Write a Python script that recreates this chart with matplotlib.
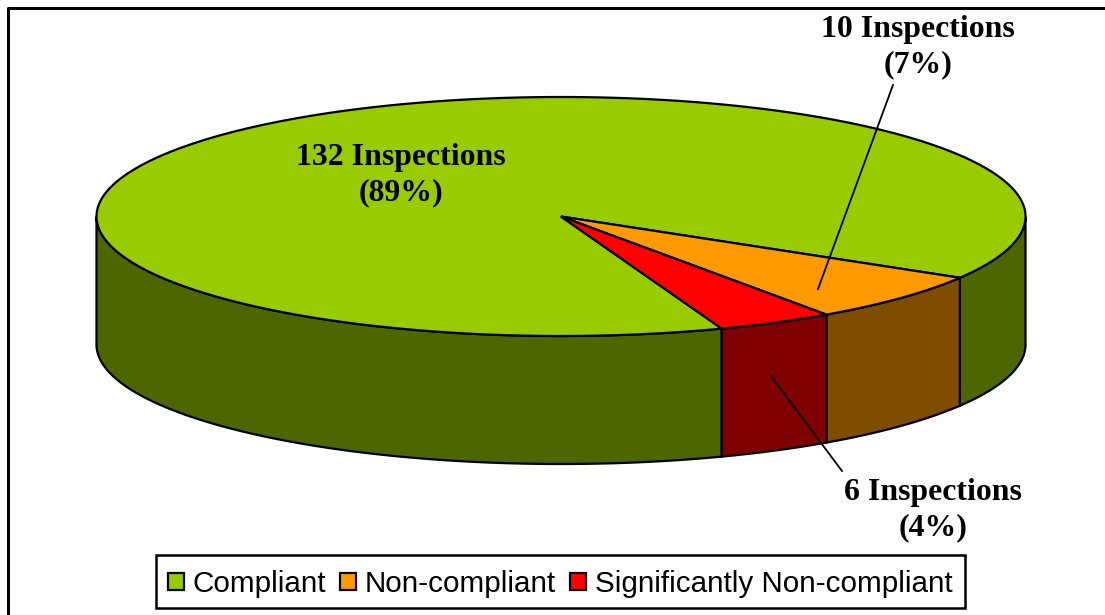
"""3D-look pie of inspection outcomes, drawn as projected ellipse wedges."""
import matplotlib

matplotlib.use("Agg")
import matplotlib.pyplot as plt
from matplotlib.patches import Patch, Polygon, Rectangle
import numpy as np

categories = ["Compliant", "Non-compliant", "Significantly Non-compliant"]
inspections = [132, 10, 6]
percent_labels = ["89%", "7%", "4%"]
top_colors = ["#99CC00", "#FF9900", "#FF0000"]
side_colors = ["#4D6600", "#804D00", "#800000"]

# Pie geometry in figure pixels
CX, CY = 561, 216.5
RX, RY = 464.5, 119.5
DEPTH = 128
START_DEG = 69.75  # where the first slice begins, clockwise from 3 o'clock

fig = plt.figure(figsize=(11.05, 6.15), dpi=100)
ax = fig.add_axes([0, 0, 1, 1])
ax.set_xlim(0, 1105)
ax.set_ylim(615, 0)
ax.axis("off")


def rim(t):
    return CX + RX * np.cos(t), CY + RY * np.sin(t)


# Frame, open at the right and bottom as in the crop
ax.plot([8, 8, 1105], [615, 8, 8], color="black", lw=2.2, solid_capstyle="butt")

# Slice angles follow the values
values = np.array(inspections, dtype=float)
edges = START_DEG + np.concatenate([[0], np.cumsum(values)]) / values.sum() * 360

# Walls first: only the front half of the rim (0-180 deg) can be seen
for a0, a1, color in zip(edges[:-1], edges[1:], side_colors):
    for offset in (0, 360):
        lo, hi = max(a0 - offset, 0), min(a1 - offset, 180)
        if lo >= hi:
            continue
        t = np.radians(np.linspace(lo, hi, 200))
        x, y = rim(t)
        wall = np.column_stack(
            [np.r_[x, x[::-1]], np.r_[y, y[::-1] + DEPTH]]
        )
        ax.add_patch(Polygon(wall, closed=True, fc=color, ec="black", lw=1.6, zorder=2))

# Top face
for a0, a1, color in zip(edges[:-1], edges[1:], top_colors):
    t = np.radians(np.linspace(a0, a1, 400))
    x, y = rim(t)
    top = np.column_stack([np.r_[CX, x], np.r_[CY, y]])
    ax.add_patch(Polygon(top, closed=True, fc=color, ec="black", lw=1.6, zorder=3))

# Data labels
label_font = dict(
    family="Liberation Serif", fontweight="bold", fontsize=22.9,
    ha="center", va="center", color="black", linespacing=1.25, zorder=5,
)
label_pos = [(401, 175), (918, 47), (933, 510)]
for n, pct, (lx, ly) in zip(inspections, percent_labels, label_pos):
    ax.text(lx, ly, f"{n} Inspections\n({pct})", **label_font)

# Leader lines
ax.plot([893, 818], [85, 289], color="black", lw=1.3, zorder=4)
ax.plot([771, 842], [376, 471], color="black", lw=1.3, zorder=4)

# Legend box drawn apart so the entries can sit a little low in it, as in the reference
ax.add_patch(Rectangle((155.5, 555), 809.5, 52.5, fc="white", ec="black", lw=1.8, zorder=5))
handles = [Patch(fc=c, ec="black", lw=1.6) for c in top_colors]
leg = ax.legend(
    handles, categories, ncol=3, loc="center", bbox_to_anchor=(560 / 1105, 1 - 584 / 615),
    frameon=False,
    prop={"family": "Liberation Sans", "size": 21.3},
    handlelength=0.54, handleheight=0.54, handletextpad=0.3, columnspacing=0.47,
    borderpad=0.4, borderaxespad=0,
)
leg.set_zorder(6)

fig.savefig("out.png", dpi=100)
plt.close(fig)
